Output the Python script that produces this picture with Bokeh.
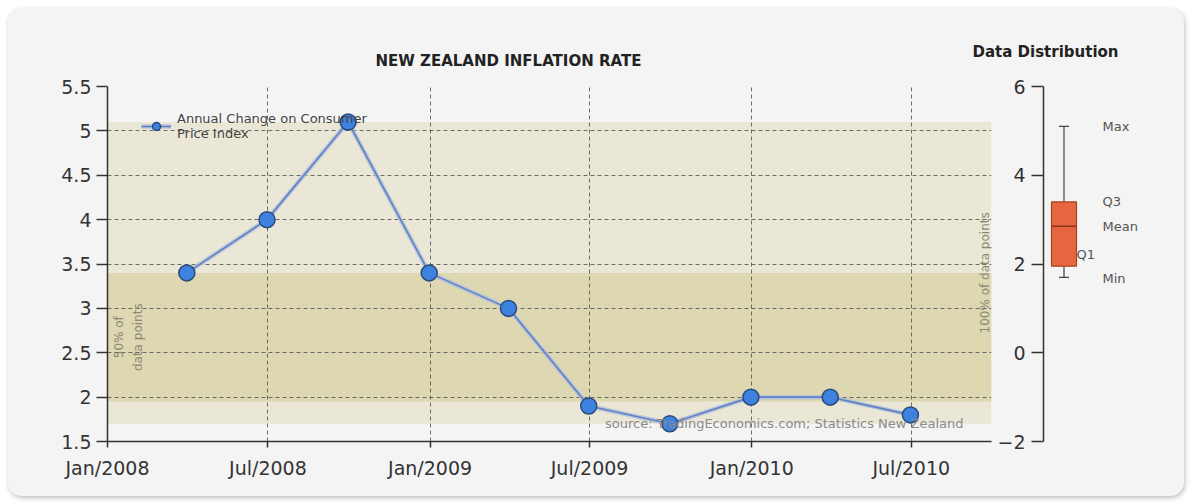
import math
import pandas as pd
from bokeh.plotting import figure
from bokeh.models import (Range1d, FixedTicker, DatetimeTickFormatter, NumeralTickFormatter,
                          BoxAnnotation, Label, Legend, LegendItem, Row, Title)
from bokeh.embed import file_html
from bokeh.resources import INLINE

# ---------------- data ----------------
quarter_dates = ["2008-03-31", "2008-06-30", "2008-09-30", "2008-12-31", "2009-03-31",
                 "2009-06-30", "2009-09-30", "2009-12-31", "2010-03-31", "2010-06-30"]
cpi_change = [3.4, 4.0, 5.1, 3.4, 3.0, 1.9, 1.7, 2.0, 2.0, 1.8]
tick_dates = ["2008-01-01", "2008-07-01", "2009-01-01", "2009-07-01", "2010-01-01", "2010-07-01"]
y_ticks = [1.5, 2, 2.5, 3, 3.5, 4, 4.5, 5, 5.5]
box_ticks = [-2, 0, 2, 4, 6]
# distribution stats: min, q1, mean, q3, max
dist_min, dist_q1, dist_mean, dist_q3, dist_max = 1.7, 1.95, 2.85, 3.4, 5.1
series_name = "Annual Change on Consumer\nPrice Index"

FONT = "DejaVu Sans"
dates = pd.to_datetime(quarter_dates)
x_start = pd.Timestamp("2008-01-01")
x_end = pd.Timestamp("2010-09-30")
ms = lambda t: t.value / 1e6

# ---------------- main chart ----------------
p = figure(width=984, height=488, x_axis_type="datetime", output_backend="svg",
           toolbar_location=None, min_border_left=99, min_border_right=1,
           min_border_top=75, min_border_bottom=55,
           x_range=Range1d(x_start, x_end), y_range=Range1d(1.5, 5.5))
p.background_fill_color = None
p.border_fill_color = None
p.outline_line_color = None

p.title = Title(text="NEW ZEALAND INFLATION RATE", align="left", offset=268, standoff=33,
                text_font=FONT, text_font_size="15px", text_font_style="bold", text_color="#222222")

def fx(px):  # pixel position in frame to datetime ms (for text placement)
    return ms(x_start) + (px - 107) / 884 * (ms(x_end) - ms(x_start))

# bands
p.add_layout(BoxAnnotation(bottom=dist_min, top=dist_max, fill_color="#eae7d7", fill_alpha=1,
                           line_color=None, level="image"))
p.add_layout(BoxAnnotation(bottom=dist_q1, top=dist_q3, fill_color="#ddd7b2", fill_alpha=1,
                           line_color=None, level="image"))

# axes
p.xaxis.ticker = FixedTicker(ticks=[ms(pd.Timestamp(d)) for d in tick_dates])
p.xaxis.formatter = DatetimeTickFormatter(milliseconds="%b/%Y", seconds="%b/%Y", minsec="%b/%Y",
                                          minutes="%b/%Y", hourmin="%b/%Y", hours="%b/%Y",
                                          days="%b/%Y", months="%b/%Y", years="%b/%Y")
p.yaxis.ticker = FixedTicker(ticks=y_ticks)
p.yaxis.formatter = NumeralTickFormatter(format="0.[0]")
for ax in (p.xaxis[0], p.yaxis[0]):
    ax.axis_line_color = "#333333"
    ax.axis_line_width = 1.5
    ax.major_tick_line_color = "#333333"
    ax.major_tick_line_width = 1.5
    ax.major_tick_in = 0
    ax.minor_tick_line_color = None
    ax.major_label_text_font = FONT
    ax.major_label_text_font_size = "19px"
    ax.major_label_text_color = "#333333"
p.yaxis.major_tick_out = 11
p.yaxis.major_label_standoff = 5
p.xaxis.major_tick_out = 6
p.xaxis.major_label_standoff = 9

for g in (p.xgrid[0], p.ygrid[0]):
    g.grid_line_color = "#555555"
    g.grid_line_dash = "4 3"
    g.grid_line_width = 1
    g.grid_line_alpha = 0.85
p.ygrid.ticker = FixedTicker(ticks=y_ticks)

# series
halo = p.line(dates, cpi_change, line_color="#b3bfdc", line_width=4.5, line_alpha=0.85)
ln = p.line(dates, cpi_change, line_color="#5f82c2", line_width=1.6)
pts = p.scatter(dates, cpi_change, size=16, fill_color="#3d82de", line_color="#2a4a78", line_width=1.5)

legend = Legend(items=[LegendItem(label=series_name, renderers=[halo, ln, pts])],
                location=(34, 300), background_fill_alpha=0, border_line_color=None,
                padding=0, margin=0, glyph_width=30, label_standoff=6, label_height=14,
                label_text_line_height=1.5,
                label_text_font=FONT, label_text_font_size="13px", label_text_color="#444444")
p.add_layout(legend)

# texts inside plot area
p.add_layout(Label(x=fx(128), y=(dist_q1 + dist_q3) / 2, text="50% of\ndata points", angle=math.pi / 2,
                   text_font=FONT, text_font_size="12px", text_color="#8c8872", text_line_height=1.4,
                   text_align="center", text_baseline="middle"))
p.add_layout(Label(x=fx(984), y=(dist_min + dist_max) / 2, text="100% of data points", angle=math.pi / 2,
                   text_font=FONT, text_font_size="12px", text_color="#8c8872",
                   text_align="center", text_baseline="middle"))
p.add_layout(Label(x=fx(963), y=1.5, y_offset=18, text="source: TradingEconomics.com; Statistics New Zealand",
                   text_font=FONT, text_font_size="13px", text_color="#8a8a8a",
                   text_align="right", text_baseline="middle"))

# ---------------- distribution chart ----------------
q = figure(width=212, height=488, output_backend="svg", toolbar_location=None,
           min_border_left=71, min_border_right=8, min_border_top=78, min_border_bottom=55,
           x_range=Range1d(0, 133), y_range=Range1d(-2, 6), x_axis_location=None)
q.background_fill_color = None
q.border_fill_color = None
q.outline_line_color = None
q.grid.visible = False
q.title = Title(text="Data Distribution", align="left", offset=-71, standoff=52,
                text_font=FONT, text_font_size="15px", text_font_style="bold", text_color="#222222")
q.yaxis.ticker = FixedTicker(ticks=box_ticks)
ya = q.yaxis[0]
ya.axis_line_color = "#333333"
ya.axis_line_width = 1.5
ya.major_tick_line_color = "#333333"
ya.major_tick_line_width = 1.5
ya.major_tick_in = 0
ya.major_tick_out = 12
ya.minor_tick_line_color = None
ya.major_label_standoff = 6
ya.major_label_text_font = FONT
ya.major_label_text_font_size = "19px"
ya.major_label_text_color = "#333333"

bx = 20.5
q.segment(x0=[bx, bx], y0=[dist_q3, dist_min], x1=[bx, bx], y1=[dist_max, dist_q1],
          line_color="#444444", line_width=1.2)
q.segment(x0=[bx - 5, bx - 5], y0=[dist_max, dist_min], x1=[bx + 5, bx + 5], y1=[dist_max, dist_min],
          line_color="#444444", line_width=1.2)
q.vbar(x=[bx], width=25, bottom=[dist_q1], top=[dist_q3], fill_color="#e8663f",
       line_color="#a8421f", line_width=1.2)
q.segment(x0=[bx - 12.5], y0=[dist_mean], x1=[bx + 12.5], y1=[dist_mean], line_color="#8a3418", line_width=1.5)

for name, val, xx, yo in [("Max", dist_max, 59, 0), ("Q3", dist_q3, 59, 0), ("Mean", dist_mean, 59, 0),
                          ("Q1", dist_q1, 33, 12), ("Min", dist_min, 59, -1)]:
    q.add_layout(Label(x=xx, y=val, y_offset=yo, text=name, text_font=FONT, text_font_size="13px",
                       text_color="#555555", text_align="left", text_baseline="middle"))
q.margin = (0, 0, 0, -20)

layout = Row(children=[p, q], margin=(8, 8, 8, 8),
             styles={"background-color": "#f4f4f4", "border-radius": "14px",
                     "box-shadow": "1px 2px 5px rgba(0,0,0,0.25)"})

open("out.html", "w").write(file_html(layout, INLINE))
